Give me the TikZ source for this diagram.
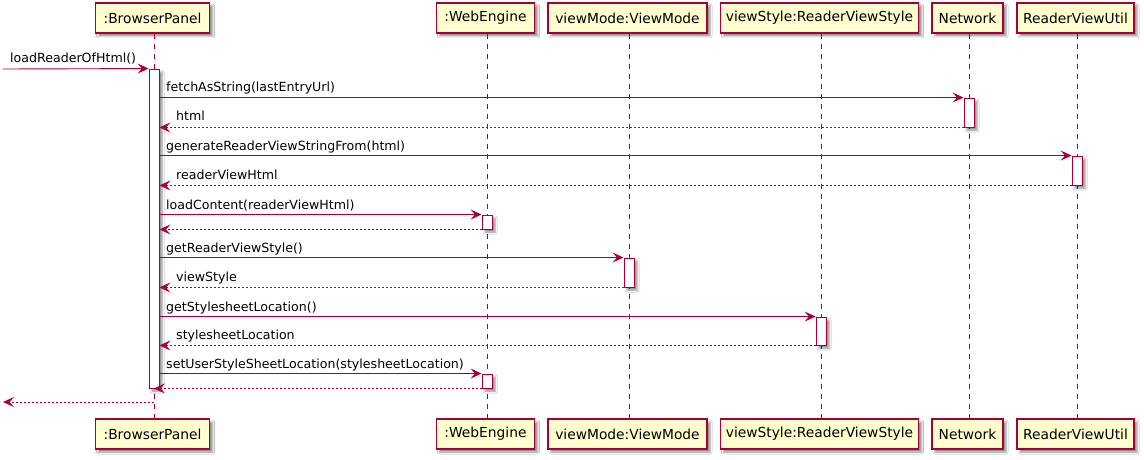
\documentclass[tikz,border=0pt]{standalone}
\usepackage{fontspec}
\setmainfont{DejaVu Sans}
\usetikzlibrary{arrows.meta,shadows.blur}
\definecolor{pline}{HTML}{A80036}
\definecolor{pfill}{HTML}{FEFECE}
\begin{document}
\begin{tikzpicture}[x=1pt,y=-1pt,
  shad/.style={blur shadow={shadow xshift=3pt,shadow yshift=-3pt,shadow blur radius=2pt,shadow opacity=45}},
  part/.style={draw=pline,line width=1.1pt,fill=pfill,minimum height=30pt,inner sep=0pt,font=\fontsize{13.8}{16}\selectfont,shad},
  life/.style={draw=pline,line width=0.8pt,dash pattern=on 5pt off 5pt},
  act/.style={draw=pline,fill=white,line width=0.9pt,minimum width=10pt,inner sep=0pt,shad},
  msg/.style={draw=pline,line width=0.9pt,-{Stealth[length=11pt,width=10pt,inset=4.5pt]}},
  ret/.style={msg,dash pattern=on 2pt off 2pt},
  lbl/.style={font=\fontsize{12.6}{15}\selectfont,anchor=base west,inner sep=0pt}]
\useasboundingbox[fill=white] (0,0) rectangle (1144,460);

% participants
\foreach \n/\x/\w/\t in {BP/154/114/{:BrowserPanel},WE/487/98/{:WebEngine},VM/629/159/{viewMode:ViewMode},VS/821/198/{viewStyle:ReaderViewStyle},NW/969/71/{Network},RU/1077/117/{ReaderViewUtil}}{
  \node[part,minimum width=\w pt] (t\n) at (\x-1.5,18) {\t};
  \node[part,minimum width=\w pt] (b\n) at (\x-1.5,434) {\t};
  \draw[life] (t\n.south -| \x,0) -- (b\n.north -| \x,0);
}

% activations
\node[act,minimum height=319pt] (aBP) at (154,228.5) {};
\node[act,minimum height=29pt] (aNW) at (969,112.5) {};
\node[act,minimum height=29pt] (aRU) at (1077,170.5) {};
\node[act,minimum height=14pt] (aWE1) at (487,222) {};
\node[act,minimum height=29pt] (aVM) at (629,272.5) {};
\node[act,minimum height=28pt] (aVS) at (821,331) {};
\node[act,minimum height=14pt] (aWE2) at (487,381) {};

\coordinate (start) at (3,69);
\coordinate (finish) at (3,402);
\coordinate (bpRet) at (154,402);

% messages
\draw[msg] (start) -- (aBP.north west);
\node[lbl] at (10,63) {loadReaderOfHtml()};

\draw[msg] (aBP.east |- aNW.north west) -- (aNW.north west);
\node[lbl] at (166,92) {fetchAsString(lastEntryUrl)};
\draw[ret] (aNW.south west) -- (aBP.east |- aNW.south west);
\node[lbl] at (176,121) {html};

\draw[msg] (aBP.east |- aRU.north west) -- (aRU.north west);
\node[lbl] at (166,150) {generateReaderViewStringFrom(html)};
\draw[ret] (aRU.south west) -- (aBP.east |- aRU.south west);
\node[lbl] at (176,179) {readerViewHtml};

\draw[msg] (aBP.east |- aWE1.north west) -- (aWE1.north west);
\node[lbl] at (166,209) {loadContent(readerViewHtml)};
\draw[ret] (aWE1.south west) -- (aBP.east |- aWE1.south west);

\draw[msg] (aBP.east |- aVM.north west) -- (aVM.north west);
\node[lbl] at (166,252) {getReaderViewStyle()};
\draw[ret] (aVM.south west) -- (aBP.east |- aVM.south west);
\node[lbl] at (176,281) {viewStyle};

\draw[msg] (aBP.east |- aVS.north west) -- (aVS.north west);
\node[lbl] at (166,311) {getStylesheetLocation()};
\draw[ret] (aVS.south west) -- (aBP.east |- aVS.south west);
\node[lbl] at (176,339) {stylesheetLocation};

\draw[msg] (aBP.east |- aWE2.north west) -- (aWE2.north west);
\node[lbl] at (166,368) {setUserStyleSheetLocation(stylesheetLocation)};
\draw[ret] (aWE2.south west) -- (aBP.south |- aWE2.south west);

\draw[ret] (bpRet) -- (finish);
\end{tikzpicture}
\end{document}
